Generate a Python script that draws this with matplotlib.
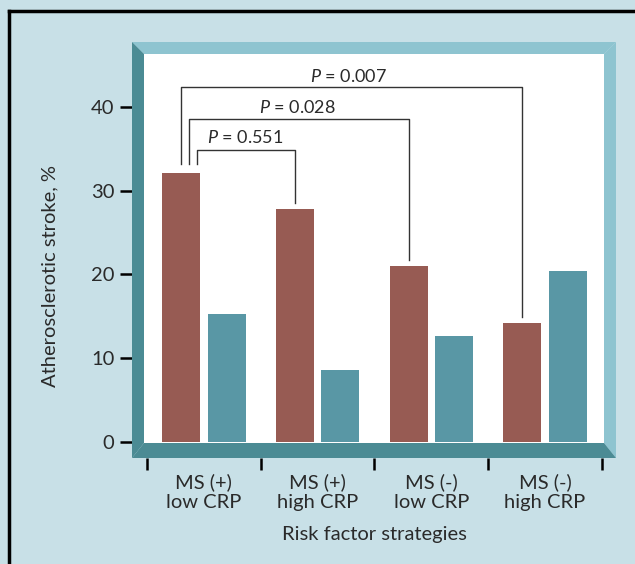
import matplotlib
matplotlib.use("Agg")
import matplotlib.pyplot as plt
from matplotlib.patches import Polygon
from matplotlib.lines import Line2D
import numpy as np

# данные
groups = ["MS (+)\nlow CRP", "MS (+)\nhigh CRP", "MS (-)\nlow CRP", "MS (-)\nhigh CRP"]
stroke_a = [32.1, 27.8, 21.0, 14.2]   # коричневые столбцы
stroke_b = [15.3, 8.6, 12.7, 20.4]    # бирюзовые столбцы
p_labels = ["0.551", "0.028", "0.007"]
p_targets = [1, 2, 3]                 # с какой группой сравнивается первая
yticks = [0, 10, 20, 30, 40]

plt.rcParams['font.family'] = ['Lato', 'DejaVu Sans']
plt.rcParams['mathtext.fontset'] = 'custom'
plt.rcParams['mathtext.it'] = 'Lato:italic'
plt.rcParams['mathtext.rm'] = 'Lato'

BG = '#c8e0e7'
BROWN = '#975b53'
TEAL = '#5997a5'
DARK = '#4b8b94'
LIGHT = '#8ec4d0'
TXT = '#2a2a2a'
FS = 14.5

W, H = 635, 564
fig = plt.figure(figsize=(W / 100, H / 100), dpi=100, facecolor=BG)


def fx(px):
    return px / W


def fy(py):
    return 1 - py / H


# рамка рисунка (только сверху и слева видна)
fig.add_artist(Line2D([fx(9), fx(9)], [fy(11), 0], color='black', lw=2.5, transform=fig.transFigure))
fig.add_artist(Line2D([fx(9), 1], [fy(11), fy(11)], color='black', lw=2.5, transform=fig.transFigure))

# "объёмная" рамка вокруг области графика
ox0, oy0, ox1, oy1 = 132, 42, 616, 458
ix0, iy0, ix1, iy1 = 144, 54, 604, 443
frame = [
    ([(ox0, oy0), (ox1, oy0), (ix1, iy0), (ix0, iy0)], LIGHT),   # верх
    ([(ox1, oy0), (ox1, oy1), (ix1, iy1), (ix1, iy0)], LIGHT),   # право
    ([(ox0, oy0), (ix0, iy0), (ix0, iy1), (ox0, oy1)], DARK),    # лево
    ([(ox0, oy1), (ix0, iy1), (ix1, iy1), (ox1, oy1)], DARK),    # низ
]
for pts, col in frame:
    fig.add_artist(Polygon([(fx(a), fy(b)) for a, b in pts], closed=True,
                           facecolor=col, edgecolor='none', transform=fig.transFigure))

ax = fig.add_axes([fx(ix0), fy(iy1), fx(ix1) - fx(ix0), fy(iy0) - fy(iy1)])
ax.set_facecolor('white')

x = np.arange(len(groups))
off = 0.2
bw = 0.335
ax.bar(x - off, stroke_a, width=bw, color=BROWN, zorder=2)
ax.bar(x + off, stroke_b, width=bw, color=TEAL, zorder=2)

ax.set_xlim(-0.526, 3.518)
ax.set_ylim(-0.1, 46.3)

for s in ax.spines.values():
    s.set_visible(False)

# оси: деления вынесены за рамку
ax.spines['left'].set_position(('outward', 8.6))
ax.spines['bottom'].set_position(('outward', 10.8))
ax.set_yticks(yticks)
ax.tick_params(axis='y', direction='out', length=8.6, width=1.8, color='black',
               labelsize=FS, labelcolor=TXT, pad=4)
ax.set_xticks(np.arange(len(groups) + 1) - 0.5)
ax.set_xticklabels([])
ax.tick_params(axis='x', which='major', direction='out', length=8.6, width=1.8, color='black')
ax.set_xticks(x, minor=True)
ax.set_xticklabels(groups, minor=True, fontsize=FS, color=TXT, linespacing=1.2)
ax.tick_params(axis='x', which='minor', length=0, pad=11)
ax.set_xlabel("Risk factor strategies", fontsize=FS, color=TXT, labelpad=11)

fig.text(fx(50), fy(276), "Atherosclerotic stroke, %", rotation=90, fontsize=FS,
         color=TXT, ha='center', va='center')

# скобки с P-значениями
bracket_y = [34.8, 38.6, 42.4]
left_shift = [0.14, 0.07, 0.0]
text_pos = [(0.36, 36.3), (0.825, 39.9), (1.27, 43.6)]
for lab, tgt, hy, ls, (tx, ty) in zip(p_labels, p_targets, bracket_y, left_shift, text_pos):
    xl = x[0] - off + ls
    xr = x[tgt] - off
    ax.plot([xl, xl, xr, xr], [stroke_a[0] + 1.1, hy, hy, stroke_a[tgt] + 0.7],
            color='#333333', lw=1.0, zorder=3)
    ax.text(tx, ty, "$P$ = " + lab, ha='center', va='center', fontsize=13, color=TXT)

fig.savefig("out.png", dpi=100, facecolor=BG)
